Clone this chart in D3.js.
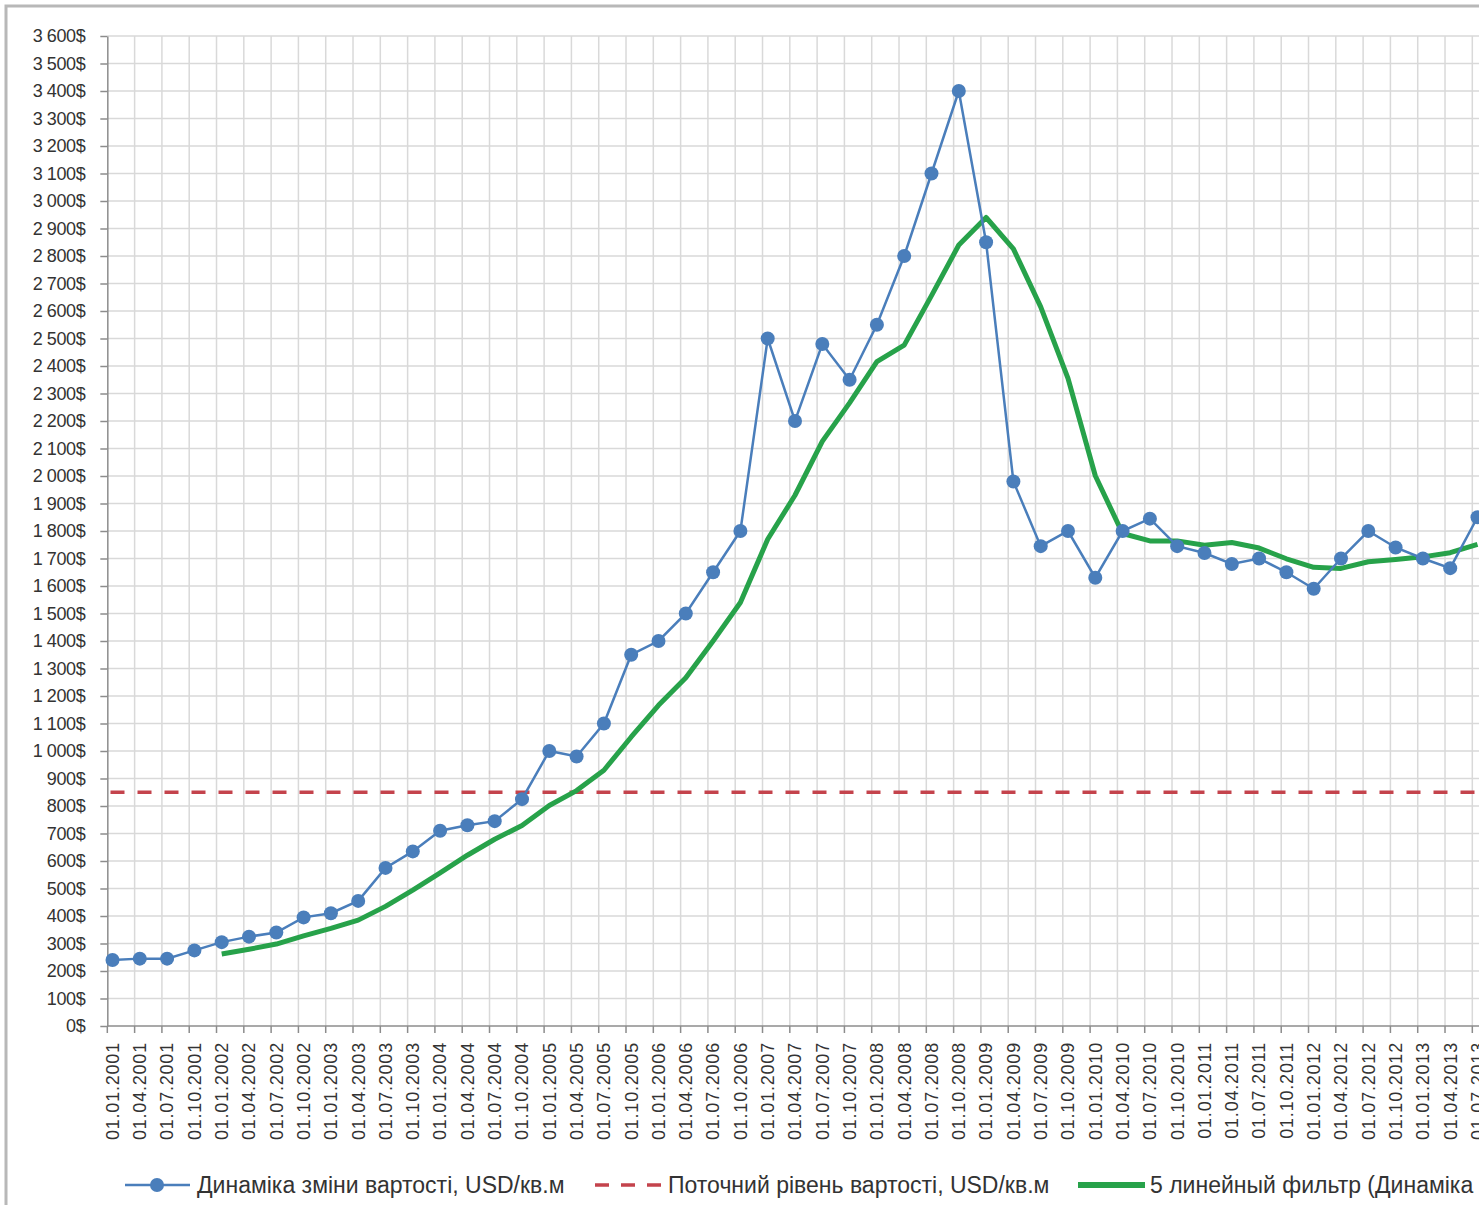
<!DOCTYPE html>
<html>
<head>
<meta charset="utf-8">
<script src="https://cdn.jsdelivr.net/npm/d3@7"></script>
<style>
  body { margin: 0; background: #fff; }
  svg { display: block; font-family: "Liberation Sans", Arial, sans-serif; }
</style>
</head>
<body>
<svg id="chart"></svg>
<script>
// quarterly dates on the x axis
const dates = [
  "01.01.2001", "01.04.2001", "01.07.2001", "01.10.2001",
  "01.01.2002", "01.04.2002", "01.07.2002", "01.10.2002",
  "01.01.2003", "01.04.2003", "01.07.2003", "01.10.2003",
  "01.01.2004", "01.04.2004", "01.07.2004", "01.10.2004",
  "01.01.2005", "01.04.2005", "01.07.2005", "01.10.2005",
  "01.01.2006", "01.04.2006", "01.07.2006", "01.10.2006",
  "01.01.2007", "01.04.2007", "01.07.2007", "01.10.2007",
  "01.01.2008", "01.04.2008", "01.07.2008", "01.10.2008",
  "01.01.2009", "01.04.2009", "01.07.2009", "01.10.2009",
  "01.01.2010", "01.04.2010", "01.07.2010", "01.10.2010",
  "01.01.2011", "01.04.2011", "01.07.2011", "01.10.2011",
  "01.01.2012", "01.04.2012", "01.07.2012", "01.10.2012",
  "01.01.2013", "01.04.2013", "01.07.2013"
];

// Динаміка зміни вартості, USD/кв.м
const priceValues = [
  240, 245, 245, 275, 305, 325, 340, 395, 410, 455, 575, 635,
  710, 730, 745, 825, 1000, 980, 1100, 1350, 1400, 1500, 1650, 1800,
  2500, 2200, 2480, 2350, 2550, 2800, 3100, 3400, 2850, 1980, 1745, 1800,
  1630, 1800, 1845, 1745, 1720, 1680, 1700, 1650, 1590, 1700, 1800, 1740,
  1700, 1665, 1850
];

// Поточний рівень вартості, USD/кв.м
const currentLevel = 850;

// 5 линейный фильтр — starts at the 5th date
const filterStart = 4;
const filterValues = [
  262, 279, 298, 328, 355, 385, 435, 494, 557, 621, 679, 729,
  802, 856, 930, 1051, 1166, 1266, 1400, 1540, 1770, 1930, 2126, 2266,
  2416, 2476, 2656, 2840, 2940, 2826, 2615, 2355, 2001, 1791, 1764, 1764,
  1748, 1758, 1738, 1699, 1668, 1664, 1688, 1696, 1706, 1721, 1751
];

const yTicks = d3.range(0, 3700, 100);

const legendLabels = [
  "Динаміка зміни вартості, USD/кв.м",
  "Поточний рівень вартості, USD/кв.м",
  "5 линейный фильтр (Динаміка зміни вартості, USD/кв.м)"
];

const W = 1479, H = 1205;
const blue = "#4a7ebb", red = "#c4434c", green = "#27a24a", grid = "#d9d9d9", textColor = "#333";

const svg = d3.select("#chart").attr("width", W).attr("height", H);

// chart frame
svg.append("rect").attr("width", W).attr("height", H).attr("fill", "#fff");
svg.append("path")
  .attr("d", `M6,${H} V6 H${W}`)
  .attr("fill", "none")
  .attr("stroke", "#b8b8b8")
  .attr("stroke-width", 3);

const x = d3.scaleLinear().domain([0, dates.length - 1]).range([112.5, 1477.5]);
const y = d3.scaleLinear().domain([0, 3600]).range([1026, 36]);
const gridShift = -0.19;  // grid/tick lines sit a bit left of the points
const left = x(gridShift);

// horizontal grid
svg.append("g")
  .selectAll("line")
  .data(yTicks.slice(1))
  .join("line")
  .attr("x1", left).attr("x2", W)
  .attr("y1", d => y(d)).attr("y2", d => y(d))
  .attr("stroke", grid).attr("stroke-width", 1.5);

// vertical grid + x tick marks
const xGrid = d3.range(1, dates.length + 1).map(i => i + gridShift);
svg.append("g")
  .selectAll("line")
  .data(xGrid)
  .join("line")
  .attr("x1", d => x(d)).attr("x2", d => x(d))
  .attr("y1", y(3600)).attr("y2", y(0))
  .attr("stroke", grid).attr("stroke-width", 1.5);

svg.append("g")
  .selectAll("line")
  .data([gridShift].concat(xGrid))
  .join("line")
  .attr("x1", d => x(d)).attr("x2", d => x(d))
  .attr("y1", y(0)).attr("y2", y(0) + 7)
  .attr("stroke", "#8c8c8c").attr("stroke-width", 1.5);

// y axis
const fmt = v => d3.format(",")(v).replace(/,/g, " ") + "$";
const yAxis = svg.append("g")
  .attr("transform", `translate(${left},0)`)
  .call(d3.axisLeft(y).tickValues(yTicks).tickFormat(fmt).tickSize(7).tickPadding(15).tickSizeOuter(0));
yAxis.select(".domain").attr("stroke", "#8c8c8c").attr("stroke-width", 1.5);
yAxis.selectAll(".tick line").attr("stroke", "#8c8c8c").attr("stroke-width", 1.5);
yAxis.selectAll(".tick text")
  .attr("fill", textColor)
  .style("font-size", "18px")
  .style("letter-spacing", "-0.4px");

// x axis line
svg.append("line")
  .attr("x1", left).attr("x2", W)
  .attr("y1", y(0)).attr("y2", y(0))
  .attr("stroke", "#8c8c8c").attr("stroke-width", 1.5);

// x labels (rotated)
svg.append("g")
  .selectAll("text")
  .data(dates)
  .join("text")
  .attr("transform", (d, i) => `translate(${x(i)},1042) rotate(-90)`)
  .attr("text-anchor", "end")
  .attr("dy", "0.35em")
  .attr("fill", textColor)
  .style("font-size", "18px")
  .style("letter-spacing", "0.8px")
  .text(d => d);

// current level (dashed)
svg.append("line")
  .attr("x1", x(0) - 2).attr("x2", W)
  .attr("y1", y(currentLevel)).attr("y2", y(currentLevel))
  .attr("stroke", red).attr("stroke-width", 3.5)
  .attr("stroke-dasharray", "14 13");

// moving-average filter
const filterData = filterValues.map((v, i) => ({ i: i + filterStart, v }));
svg.append("path")
  .datum(filterData)
  .attr("fill", "none")
  .attr("stroke", green)
  .attr("stroke-width", 5)
  .attr("stroke-linejoin", "round")
  .attr("d", d3.line().x(d => x(d.i)).y(d => y(d.v)));

// price series
const priceData = priceValues.map((v, i) => ({ i, v }));
svg.append("path")
  .datum(priceData)
  .attr("fill", "none")
  .attr("stroke", blue)
  .attr("stroke-width", 2.5)
  .attr("d", d3.line().x(d => x(d.i)).y(d => y(d.v)));

svg.append("g")
  .selectAll("circle")
  .data(priceData)
  .join("circle")
  .attr("cx", d => x(d.i))
  .attr("cy", d => y(d.v))
  .attr("r", 7)
  .attr("fill", blue);

// legend
const legendY = 1185;
const legend = svg.append("g").style("font-size", "23px").attr("fill", textColor);

legend.append("line")
  .attr("x1", 125).attr("x2", 190).attr("y1", legendY).attr("y2", legendY)
  .attr("stroke", blue).attr("stroke-width", 2.5);
legend.append("circle").attr("cx", 157).attr("cy", legendY).attr("r", 7).attr("fill", blue);
legend.append("text").attr("x", 197).attr("y", legendY).attr("dy", "0.35em").text(legendLabels[0]);

legend.append("line")
  .attr("x1", 595).attr("x2", 661).attr("y1", legendY).attr("y2", legendY)
  .attr("stroke", red).attr("stroke-width", 3.5)
  .attr("stroke-dasharray", "14 12");
legend.append("text").attr("x", 668).attr("y", legendY).attr("dy", "0.35em").text(legendLabels[1]);

legend.append("line")
  .attr("x1", 1078).attr("x2", 1145).attr("y1", legendY).attr("y2", legendY)
  .attr("stroke", green).attr("stroke-width", 6);
legend.append("text").attr("x", 1150).attr("y", legendY).attr("dy", "0.35em").text(legendLabels[2]);
</script>
</body>
</html>
